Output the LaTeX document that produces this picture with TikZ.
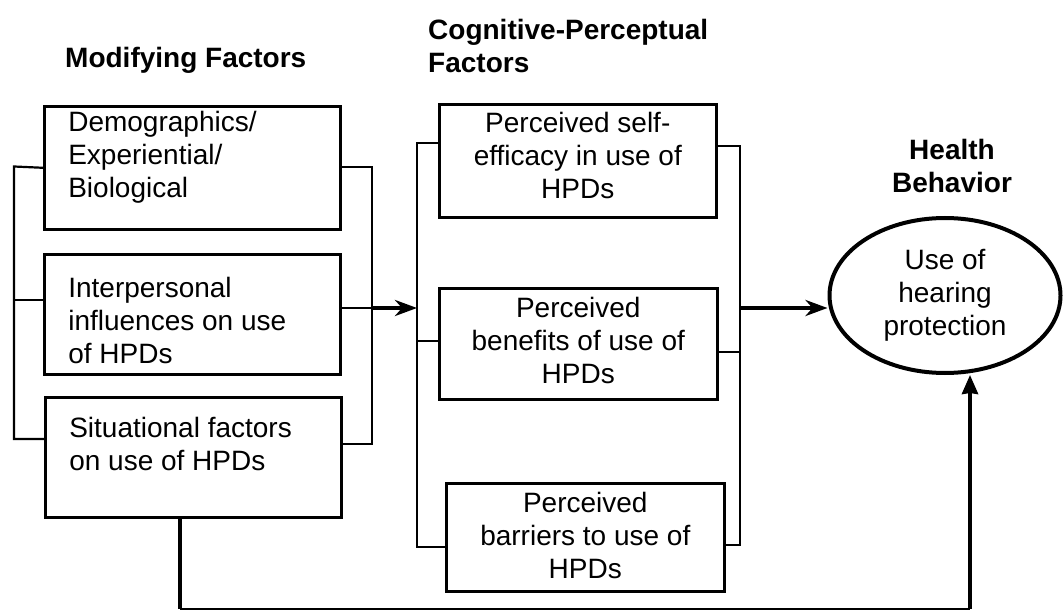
\documentclass[tikz,border=0pt]{standalone}
\usepackage{fontspec}
\setmainfont{Liberation Sans}
\usetikzlibrary{arrows.meta,shapes.geometric}
\newcommand\boxtxt[4]{\parbox[c][#2][t]{#1}{\vspace*{#3}#4}}
\tikzset{
  box/.style={draw, line width=2.6pt, inner ysep=0pt, anchor=north west, font=\fontsize{28}{33}\selectfont},
  lbox/.style={box, inner xsep=24pt},
  cbox/.style={box, inner xsep=8pt},
  brk/.style={line width=2.2pt},
  hdr/.style={font=\bfseries\fontsize{28}{33}\selectfont, align=left, inner sep=0pt},
  arr/.style={line width=3.8pt, -{Stealth[length=22pt,width=16pt,inset=7pt]}},
  arr3/.style={line width=3.6pt, -{Stealth[length=19pt,width=16pt,inset=1pt]}},
  thickline/.style={line width=3.6pt},
  thinline/.style={line width=1.5pt}
}
\begin{document}
\begin{tikzpicture}[x=1pt,y=-1pt]
\useasboundingbox (0,0) rectangle (1063,612);
% headers
\node[hdr, anchor=base west] (hmf) at (65,68) {Modifying Factors};
\node[hdr, anchor=base west] (hcp) at (428,73) {Cognitive-Perceptual\\Factors};
\node[hdr, anchor=base, align=center] (hhb) at (952,193) {Health\\Behavior};
% left boxes
\node[lbox] (b1) at (43,105) {\boxtxt{248pt}{123pt}{5pt}{\raggedright Demographics/\\Experiential/\\Biological}};
\node[lbox] (b2) at (43,253) {\boxtxt{248pt}{120pt}{23pt}{\raggedright Interpersonal\\influences on use\\of HPDs}};
\node[lbox] (b3) at (44,396) {\boxtxt{248pt}{120pt}{20pt}{\raggedright Situational factors\\on use of HPDs}};
% middle boxes
\node[cbox] (b4) at (438,103) {\boxtxt{261pt}{113pt}{8pt}{\centering Perceived self-\\efficacy in use of\\HPDs}};
\node[cbox] (b5) at (438,287) {\boxtxt{262pt}{111pt}{9pt}{\centering Perceived\\benefits of use of\\HPDs}};
\node[cbox] (b6) at (445,482) {\boxtxt{262pt}{108pt}{9pt}{\centering Perceived\\barriers to use of\\HPDs}};
% outcome
\node[ellipse, draw, line width=4pt, minimum width=231pt, minimum height=155pt, inner sep=0pt, align=center, font=\fontsize{28}{33}\selectfont] (hp) at (945,295.5) {Use of\\hearing\\protection};
% left bracket
\coordinate (lsp1) at (14,166.5);
\coordinate (lsp2) at (14,439);
\draw[brk] (b1.west) -- (lsp1) -- (lsp2) -- (b3.west |- lsp2);
\draw[brk] (b2.west |- 0,300) -- (lsp1 |- 0,300);
% right bracket of modifying factors
\coordinate (rsp1) at (372,167);
\coordinate (rsp2) at (372,444);
\draw[brk] (b1.east |- rsp1) -- (rsp1) -- (rsp2) -- (b3.east |- rsp2);
\coordinate (rmid) at (372,308);
\draw[brk] (b2.east |- rmid) -- (rmid);
% middle left bracket
\coordinate (mlsp1) at (417,143);
\coordinate (mlsp2) at (417,547);
\coordinate (mlmid) at (417,308);
\draw[brk] (b4.west |- mlsp1) -- (mlsp1) -- (mlsp2) -- (b6.west |- mlsp2);
\draw[brk] (b5.west |- 0,341) -- (mlsp1 |- 0,341);
\draw[arr] (rmid) -- (mlmid);
% middle right bracket
\coordinate (mrsp1) at (740,146);
\coordinate (mrsp2) at (740,545);
\coordinate (mrmid) at (740,308);
\draw[brk] (b4.east |- mrsp1) -- (mrsp1) -- (mrsp2) -- (b6.east |- mrsp2);
\draw[brk] (b5.east |- 0,352) -- (mrsp1 |- 0,352);
\draw[arr] (mrmid) -- (mrmid -| hp.west);
% feedback line
\coordinate (bl) at (180,609);
\coordinate (br) at (970,609);
\draw[thickline] (bl |- b3.south) -- (bl);
\draw[thinline] (bl) -- (br);
\draw[arr3] (br) -- (br |- hp.south);
\end{tikzpicture}
\end{document}
